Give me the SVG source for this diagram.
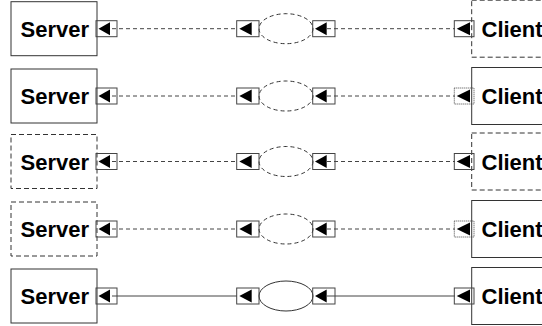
<svg xmlns="http://www.w3.org/2000/svg" width="542" height="326" viewBox="0 0 542 326">
<style>
.box{fill:#fff;stroke:#333;stroke-width:1}
.dbox{fill:none;stroke:#333;stroke-width:1;stroke-dasharray:5 3}
.port{fill:none;stroke:#444;stroke-width:1}
.dport{fill:none;stroke:#444;stroke-width:1;stroke-dasharray:1 1}
.tri{fill:#000;stroke:none}
.lbl{font-family:"Liberation Sans",Arial,sans-serif;font-weight:bold;font-size:22px;fill:#000}
.ell{fill:#fff;stroke:#333;stroke-width:1}
.dell{fill:#fff;stroke:#333;stroke-width:1;stroke-dasharray:4 3}
.con{stroke:#444;stroke-width:1;fill:none}
.dcon{stroke:#444;stroke-width:1;fill:none;stroke-dasharray:4 3}
</style>
<defs>
<g id="sport"><rect class="port" x="96" y="-8" width="21" height="16"/><path class="tri" d="M98.5 0L110 -6.5V6.5Z"/></g>
<g id="eports"><rect class="port" x="236.7" y="-8" width="22.3" height="16"/><path class="tri" d="M239.3 0L251.7 -6.5V6.5Z"/><rect class="port" x="312.7" y="-8" width="22.3" height="16"/><path class="tri" d="M315 0L326.7 -6.5V6.5Z"/></g>
<path id="ctri" class="tri" d="M456.7 0L470 -6.5V6.5Z"/>
</defs>

<g id="connectors">
<g transform="translate(0,28.7)"><path class="dcon" d="M112 0H237M327 0H455"/></g>
<g transform="translate(0,96)"><path class="dcon" d="M112 0H237M327 0H455"/></g>
<g transform="translate(0,161.5)"><path class="dcon" d="M112 0H237M327 0H455"/></g>
<g transform="translate(0,229)"><path class="dcon" d="M112 0H237M327 0H455"/></g>
<g transform="translate(0,296)"><path class="con" d="M112 0H237M327 0H455"/></g>
</g>

<g id="server1" transform="translate(0,28.7)"><rect class="box" x="11" y="-27" width="86" height="54"/><text class="lbl" x="20.5" y="8">Server</text><use href="#sport"/></g>
<g id="server2" transform="translate(0,96)"><rect class="box" x="11" y="-27" width="86" height="54"/><text class="lbl" x="20.5" y="8">Server</text><use href="#sport"/></g>
<g id="server3" transform="translate(0,161.5)"><rect class="dbox" x="11" y="-27" width="86" height="54"/><text class="lbl" x="20.5" y="8">Server</text><use href="#sport"/></g>
<g id="server4" transform="translate(0,229)"><rect class="dbox" x="11" y="-27" width="86" height="54"/><text class="lbl" x="20.5" y="8">Server</text><use href="#sport"/></g>
<g id="server5" transform="translate(0,296)"><rect class="box" x="11" y="-27" width="86" height="54"/><text class="lbl" x="20.5" y="8">Server</text><use href="#sport"/></g>

<g id="link1" transform="translate(0,28.7)"><ellipse class="dell" cx="286" cy="0" rx="27" ry="15"/><use href="#eports"/></g>
<g id="link2" transform="translate(0,96)"><ellipse class="dell" cx="286" cy="0" rx="27" ry="15"/><use href="#eports"/></g>
<g id="link3" transform="translate(0,161.5)"><ellipse class="dell" cx="286" cy="0" rx="27" ry="15"/><use href="#eports"/></g>
<g id="link4" transform="translate(0,229)"><ellipse class="dell" cx="286" cy="0" rx="27" ry="15"/><use href="#eports"/></g>
<g id="link5" transform="translate(0,296)"><ellipse class="ell" cx="286" cy="0" rx="27" ry="15"/><use href="#eports"/></g>

<g id="client1" transform="translate(0,28.7)"><rect class="dbox" x="471.7" y="-28.5" width="90" height="57"/><text class="lbl" x="481.5" y="8">Client</text><rect class="port" x="454.3" y="-8" width="19.7" height="16"/><use href="#ctri"/></g>
<g id="client2" transform="translate(0,96)"><rect class="box" x="471.7" y="-28.5" width="90" height="57"/><text class="lbl" x="481.5" y="8">Client</text><rect class="dport" x="454.3" y="-8" width="19.7" height="16"/><use href="#ctri"/></g>
<g id="client3" transform="translate(0,161.5)"><rect class="dbox" x="471.7" y="-28.5" width="90" height="57"/><text class="lbl" x="481.5" y="8">Client</text><rect class="port" x="454.3" y="-8" width="19.7" height="16"/><use href="#ctri"/></g>
<g id="client4" transform="translate(0,229)"><rect class="box" x="471.7" y="-28.5" width="90" height="57"/><text class="lbl" x="481.5" y="8">Client</text><rect class="dport" x="454.3" y="-8" width="19.7" height="16"/><use href="#ctri"/></g>
<g id="client5" transform="translate(0,296)"><rect class="box" x="471.7" y="-28.5" width="90" height="57"/><text class="lbl" x="481.5" y="8">Client</text><rect class="port" x="454.3" y="-8" width="19.7" height="16"/><use href="#ctri"/></g>
</svg>
